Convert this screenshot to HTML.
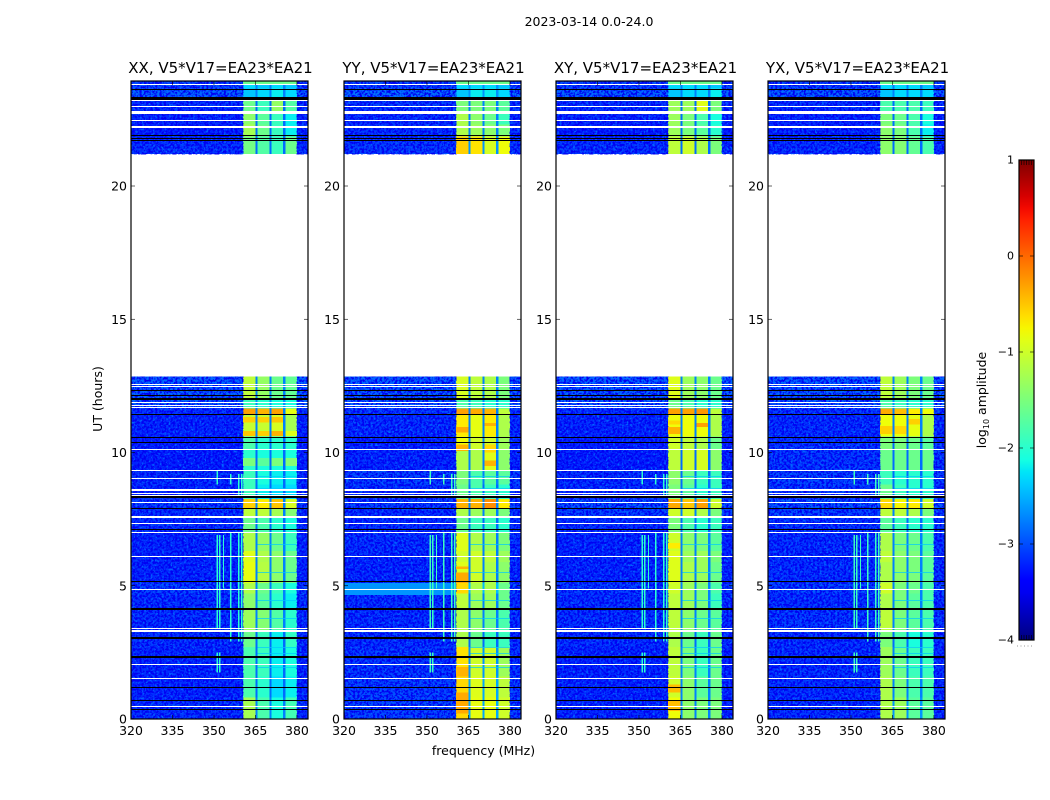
<!DOCTYPE html>
<html lang="en">
<head>
<meta charset="utf-8">
<title>2023-03-14 0.0-24.0</title>
<style>
html,body{margin:0;padding:0;background:#fff;}
svg{display:block;font-family:"DejaVu Sans","Liberation Sans",sans-serif;}
</style>
</head>
<body>
<svg id="figure" width="1050" height="800" viewBox="0 0 1050 800" xmlns="http://www.w3.org/2000/svg">
  <defs>
    <filter id="speckle-light" x="0" y="0" width="100%" height="100%" color-interpolation-filters="sRGB">
      <feTurbulence type="fractalNoise" baseFrequency="0.45" numOctaves="2" seed="4"/>
      <feColorMatrix type="matrix" values="0 0 0 0 0  0 0 0 0 0.4  0 0 0 0 1  4.5 0 0 0 -2.3"/>
    </filter>
    <filter id="speckle-dark" x="0" y="0" width="100%" height="100%" color-interpolation-filters="sRGB">
      <feTurbulence type="fractalNoise" baseFrequency="0.45" numOctaves="2" seed="11"/>
      <feColorMatrix type="matrix" values="0 0 0 0 0  0 0 0 0 0  0 0 0 0 0.95  0 5 0 0 -2.1"/>
    </filter>
    <linearGradient id="colorbar-gradient" x1="0" y1="1" x2="0" y2="0"></linearGradient>
  </defs>
  <rect width="1050" height="800" fill="#fff"/>
  <text x="589" y="26" text-anchor="middle" font-size="12.5" fill="#000">2023-03-14 0.0-24.0</text>
  <g id="panels"></g>
  <text transform="translate(102,399) rotate(-90)" text-anchor="middle" font-size="12.5" fill="#000">UT (hours)</text>
  <text x="483.5" y="755" text-anchor="middle" font-size="12.5" fill="#000">frequency (MHz)</text>
  <g id="colorbar"></g>
  <text transform="translate(986,400) rotate(-90)" text-anchor="middle" font-size="12.5" fill="#000">log<tspan font-size="8" dy="3">10</tspan><tspan dy="-3"> amplitude</tspan></text>
</svg>
<script>
// ---- chart data ----
const panelTitles = ["XX, V5*V17=EA23*EA21", "YY, V5*V17=EA23*EA21", "XY, V5*V17=EA23*EA21", "YX, V5*V17=EA23*EA21"];
const freqTicks = [320, 335, 350, 365, 380];
const timeTicks = [0, 5, 10, 15, 20];
const colorTicks = [1, 0, -1, -2, -3, -4];
const freqEdges = [320, 360.5, 365, 365.8, 370, 370.8, 375, 375.8, 380, 384];
const segmentStart = [0, 0.8, 1.6, 2.7, 3.3, 4.1, 4.7, 5.1, 5.9, 6.3, 7.0, 7.6, 7.9, 8.25, 8.8, 9.35, 10.1, 10.6, 11.4, 11.65, 12.05, 21.2, 21.85, 22.3, 22.8, 23.3, 23.65];
const segmentEnd = [0.8, 1.6, 2.7, 3.3, 4.1, 4.7, 5.1, 5.9, 6.3, 7.0, 7.6, 7.9, 8.25, 8.8, 9.35, 10.1, 10.6, 11.4, 11.65, 12.05, 12.85, 21.85, 22.3, 22.8, 23.3, 23.65, 23.94];
// per segment: [background, channel gap, sub-band A, B, C, D] log10 amplitude
const amplitudeXX = [
[-3.1,-2.75,-1.25,-1.8,-2.1,-1.85],[-3.15,-2.85,-1.8,-2.0,-2.3,-2.2],[-3.15,-2.85,-1.8,-1.9,-2.2,-2.1],[-3.1,-2.85,-1.6,-1.9,-2.2,-1.95],
[-3.1,-2.75,-1.3,-1.45,-1.75,-2.0],[-3.1,-2.75,-1.4,-1.7,-2.0,-2.2],[-3.0,-2.75,-1.2,-1.6,-1.9,-2.1],[-3.15,-2.75,-0.85,-1.15,-1.4,-1.6],
[-3.15,-2.75,-0.9,-1.2,-1.4,-1.6],[-3.15,-2.75,-1.2,-1.35,-1.6,-1.9],[-3.1,-2.85,-1.6,-1.8,-2.0,-2.1],[-3.1,-2.75,-1.1,-1.1,-1.25,-1.45],
[-3.0,-2.75,-0.55,-0.7,-0.5,-0.95],[-3.15,-2.85,-1.9,-2.2,-2.3,-2.3],[-3.1,-2.85,-1.9,-2.1,-2.2,-2.2],[-3.2,-2.85,-2.0,-2.1,-2.1,-2.1],
[-3.2,-2.85,-1.8,-2.0,-2.0,-2.0],[-3.15,-2.75,-1.05,-1.05,-0.95,-1.25],[-3.1,-2.75,-0.3,-0.4,-0.3,-0.85],[-2.85,-2.65,-1.9,-2.0,-2.1,-2.1],
[-2.85,-2.75,-1.1,-1.35,-1.6,-1.65],
[-3.1,-2.85,-1.55,-1.75,-1.9,-1.6],[-3.2,-2.85,-1.25,-1.6,-1.9,-2.2],[-3.15,-2.85,-1.4,-1.7,-1.9,-2.2],[-3.1,-2.85,-1.6,-1.9,-1.35,-1.75],
[-2.85,-2.75,-2.4,-2.3,-2.2,-2.3],[-3.0,-2.75,-2.3,-2.4,-2.3,-2.4]
];
const amplitudeYY = [
[-3.0,-2.55,-0.6,-0.85,-0.85,-1.0],[-3.0,-2.55,-0.6,-0.9,-0.95,-1.1],[-3.05,-2.65,-0.65,-1.0,-1.0,-1.3],[-3.1,-2.85,-1.2,-1.6,-1.9,-1.9],
[-3.1,-2.75,-1.2,-1.4,-1.6,-1.8],[-3.1,-2.75,-1.1,-1.3,-1.3,-1.6],[-3.0,-2.45,-0.6,-1.2,-1.2,-1.6],[-3.15,-2.75,-0.9,-1.0,-1.2,-1.4],
[-3.15,-2.75,-1.0,-1.0,-1.1,-1.3],[-3.1,-2.75,-0.9,-1.2,-1.3,-1.5],[-3.1,-2.85,-1.6,-1.9,-1.9,-2.0],[-3.1,-2.75,-1.2,-1.3,-1.3,-1.5],
[-3.0,-2.75,-0.4,-0.4,-0.2,-0.7],[-3.1,-2.85,-1.6,-1.8,-1.9,-2.0],[-3.0,-2.75,-1.5,-1.8,-1.7,-1.7],[-3.15,-2.75,-1.2,-1.2,-0.9,-1.4],
[-3.15,-2.75,-0.8,-1.0,-1.0,-1.3],[-3.1,-2.75,-0.7,-0.85,-0.7,-1.2],[-3.05,-2.75,-0.3,-0.35,-0.4,-1.1],[-2.85,-2.65,-1.8,-1.9,-2.0,-2.0],
[-2.85,-2.75,-0.95,-1.1,-1.2,-1.5],
[-3.05,-2.65,-0.55,-0.65,-0.95,-0.8],[-3.1,-2.75,-1.2,-1.3,-1.4,-1.5],[-3.1,-2.75,-1.2,-1.4,-1.6,-1.9],[-3.05,-2.75,-1.5,-1.5,-1.5,-1.7],
[-2.8,-2.65,-2.4,-2.2,-2.2,-2.3],[-3.0,-2.65,-2.3,-2.3,-2.3,-2.4]
];
const amplitudeXY = [
[-3.15,-2.75,-0.8,-1.4,-1.5,-1.5],[-3.15,-2.75,-1.0,-1.4,-1.7,-1.6],[-3.15,-2.75,-1.1,-1.5,-1.9,-1.6],[-3.1,-2.85,-1.2,-1.6,-1.9,-1.6],
[-3.1,-2.75,-1.1,-1.4,-1.6,-1.7],[-3.1,-2.75,-1.1,-1.3,-1.5,-1.9],[-3.05,-2.75,-1.0,-1.3,-1.5,-1.8],[-3.15,-2.75,-0.9,-1.2,-1.3,-1.6],
[-3.15,-2.75,-0.9,-1.3,-1.3,-1.5],[-3.15,-2.75,-1.0,-1.4,-1.5,-1.7],[-3.1,-2.85,-1.5,-1.8,-2.0,-1.9],[-3.0,-2.75,-1.0,-1.0,-1.2,-1.5],
[-2.9,-2.75,-0.35,-0.5,-0.3,-1.0],[-3.1,-2.85,-1.5,-1.7,-2.0,-1.9],[-3.1,-2.85,-1.4,-1.6,-1.9,-1.9],[-3.2,-2.85,-1.1,-1.0,-0.95,-1.4],
[-3.2,-2.85,-1.0,-1.1,-1.2,-1.6],[-3.15,-2.75,-0.8,-0.8,-0.8,-1.2],[-3.1,-2.75,-0.3,-0.3,-0.25,-1.1],[-2.85,-2.65,-1.6,-1.8,-2.0,-2.0],
[-2.85,-2.75,-0.9,-1.3,-1.4,-1.6],
[-3.1,-2.85,-1.1,-1.0,-1.2,-1.5],[-3.2,-2.85,-1.3,-1.5,-1.7,-2.0],[-3.15,-2.85,-1.3,-1.5,-1.8,-2.1],[-3.1,-2.85,-1.3,-1.3,-0.9,-1.5],
[-2.85,-2.75,-2.4,-2.3,-2.3,-2.2],[-3.0,-2.75,-2.3,-2.3,-2.3,-2.4]
];
const amplitudeYX = [
[-3.1,-2.65,-1.2,-1.3,-1.7,-1.7],[-3.1,-2.75,-1.2,-1.5,-1.8,-1.8],[-3.1,-2.75,-1.3,-1.6,-1.9,-1.9],[-3.1,-2.85,-1.5,-1.8,-2.1,-2.0],
[-3.05,-2.75,-1.1,-1.5,-1.7,-1.8],[-3.1,-2.75,-1.2,-1.5,-1.7,-1.8],[-3.0,-2.75,-1.0,-1.5,-1.6,-1.8],[-3.1,-2.75,-1.2,-1.4,-1.5,-1.7],
[-3.1,-2.75,-1.1,-1.4,-1.5,-1.7],[-3.1,-2.75,-1.2,-1.5,-1.6,-1.8],[-3.05,-2.85,-1.7,-1.9,-2.0,-2.0],[-3.0,-2.75,-1.1,-1.1,-1.2,-1.5],
[-2.9,-2.75,-0.6,-0.75,-0.7,-1.0],[-3.05,-2.85,-1.6,-1.9,-2.0,-2.0],[-3.0,-2.85,-1.9,-2.0,-2.0,-2.0],[-3.05,-2.85,-1.6,-1.6,-1.6,-1.6],
[-3.05,-2.85,-1.5,-1.5,-1.6,-1.7],[-3.1,-2.75,-0.8,-0.8,-0.85,-1.2],[-3.05,-2.75,-0.35,-0.45,-0.7,-0.8],[-2.85,-2.65,-1.8,-1.9,-2.0,-2.0],
[-2.85,-2.75,-1.1,-1.3,-1.5,-1.6],
[-3.1,-2.85,-1.4,-1.45,-1.65,-1.8],[-3.15,-2.85,-1.4,-1.5,-1.8,-2.2],[-3.15,-2.85,-1.5,-1.6,-1.8,-2.1],[-3.1,-2.85,-1.8,-1.8,-1.8,-1.9],
[-2.85,-2.75,-2.4,-2.3,-2.3,-2.3],[-3.0,-2.75,-2.3,-2.3,-2.3,-2.4]
];
const panelAmplitudes = [amplitudeXX, amplitudeYY, amplitudeXY, amplitudeYX];
// localized bright or dim patches: panel, start MHz, end MHz, start hour, end hour, level
const patchPanel = [0,0,0,0,0,0,0,0,0,0,0, 1,1,1,1,1,1,1,1,1,1, 2,2,2,2,2,2, 3,3,3];
const patchFreqStart = [360.5,365.8,370.8,375.8,360.5,365.8,370.8,360.5,365.8,370.8,375.8, 360.5,360.5,370.8,370.8,370.8,360.5,360.5,360.5,360.5,320, 360.5,360.5,370.8,360.5,360.5,360.5, 360.5,365.8,370.8];
const patchFreqEnd = [365,370,375,380,365,370,375,365,370,375,380, 365,365,375,375,375,365,365,365,365,360.5, 365,365,375,365,365,365, 365,370,375];
const patchStart = [10.62,10.62,10.62,10.62,11.12,11.12,11.12,9.5,9.5,9.5,9.5, 10.75,10.05,11.0,10.0,9.5,5.1,5.62,0.2,1.6,4.65, 10.7,11.05,10.95,0.3,1.0,6.4, 10.7,10.7,11.05];
const patchEnd = [10.8,10.8,10.8,10.8,11.33,11.33,11.33,9.8,9.8,9.8,9.8, 10.95,10.3,11.1,10.3,9.7,5.5,5.72,1.0,1.95,5.1, 10.95,11.2,11.1,0.7,1.3,6.6, 11.0,11.0,11.25];
const patchLevel = [-0.5,-0.55,-0.4,-0.9,-0.55,-0.55,-0.5,-1.5,-1.7,-1.5,-1.45, -0.35,-0.4,-0.4,-0.6,-0.4,-0.35,-0.4,-0.35,-0.4,-2.65, -0.4,-0.6,-0.3,-0.45,-0.45,-0.7, -0.55,-0.6,-0.55];
// faint dips across the sub-bands, common to all panels
const dipHour = [4.47, 3.8, 2.7, 2.48, 1.95, 5.5, 6.55, 9.1, 8.65];
// strong row at the very top of the sub-bands
const topStripeStart = 23.82;
const topStripeEnd = 23.94;
const topStripeLevel = -1.6;
// narrow interference lines
const rfiFreq = [351, 351, 351, 351.8, 351.8, 353.2, 355.8, 355.8, 358.7, 358.7, 359.8, 359.8];
const rfiStart = [1.75, 3.4, 8.8, 1.75, 3.4, 4.9, 2.9, 8.8, 2.9, 8.3, 2.9, 8.3];
const rfiEnd = [2.5, 6.9, 9.3, 2.5, 6.9, 6.9, 7.0, 9.2, 7.0, 9.2, 7.0, 9.2];
const rfiLevelByPanel = [-2.0, -1.9, -2.0, -1.9];
// unobserved (white) and zero-amplitude (black) time rows
const whiteRowHour = [23.79, 23.21, 22.96, 22.77, 22.44, 22.21, 12.54, 12.48, 11.86, 11.78, 11.67, 10.13, 9.34, 9.04, 8.59, 8.46, 8.38, 8.11, 7.58, 7.35, 6.98, 6.08, 4.84, 3.41, 3.32, 2.06, 1.50, 0.45];
const whiteRowSpan = [0.04, 0.09, 0.055, 0.11, 0.055, 0.075, 0.04, 0.04, 0.04, 0.04, 0.04, 0.04, 0.04, 0.04, 0.075, 0.04, 0.04, 0.04, 0.075, 0.04, 0.04, 0.04, 0.04, 0.04, 0.075, 0.04, 0.04, 0.04];
const blackRowHour = [23.62, 23.3, 21.88, 21.8, 21.69, 12.32, 12.12, 11.99, 11.44, 10.58, 10.36, 8.31, 7.88, 7.09, 5.14, 4.13, 3.04, 2.33, 1.16, 0.71, 0.34];
const blackRowSpan = [0.05, 0.1, 0.035, 0.035, 0.035, 0.04, 0.04, 0.09, 0.04, 0.04, 0.04, 0.09, 0.04, 0.045, 0.045, 0.07, 0.07, 0.07, 0.045, 0.04, 0.04];
const dataBlockStart = [0, 21.2];
const dataBlockEnd = [12.85, 23.94];
const colorMin = -4;
const colorMax = 1;
const freqMin = 320;
const freqMax = 384;
const timeMin = 0;
const timeMax = 23.94;

// ---- layout ----
const NS = "http://www.w3.org/2000/svg";
const panelLefts = [131, 344, 556, 768];
const plotWidth = 177;
const plotTop = 81;
const plotBottom = 719;
const barLeft = 1019, barRight = 1034, barTop = 160, barBottom = 640;

function xScale(freq, left) { return left + (freq - freqMin) / (freqMax - freqMin) * plotWidth; }
function yScale(hour) { return plotBottom - (hour - timeMin) / (timeMax - timeMin) * (plotBottom - plotTop); }
function barScale(level) { return barBottom - (level - colorMin) / (colorMax - colorMin) * (barBottom - barTop); }

function interp(stops, t) {
  for (let i = 1; i < stops.length; i++) {
    if (t <= stops[i][0]) {
      const a = stops[i - 1], b = stops[i];
      return a[1] + (b[1] - a[1]) * (t - a[0]) / (b[0] - a[0]);
    }
  }
  return stops[stops.length - 1][1];
}
const jetR = [[0, 0], [0.35, 0], [0.66, 1], [0.89, 1], [1, 0.5]];
const jetG = [[0, 0], [0.125, 0], [0.375, 1], [0.64, 1], [0.91, 0], [1, 0]];
const jetB = [[0, 0.5], [0.11, 1], [0.34, 1], [0.65, 0], [1, 0]];
function jet(level) {
  const t = Math.max(0, Math.min(1, (level - colorMin) / (colorMax - colorMin)));
  return "rgb(" + Math.round(255 * interp(jetR, t)) + "," + Math.round(255 * interp(jetG, t)) + "," + Math.round(255 * interp(jetB, t)) + ")";
}
function make(tag, attrs, parent) {
  const el = document.createElementNS(NS, tag);
  for (const k in attrs) el.setAttribute(k, attrs[k]);
  parent.appendChild(el);
  return el;
}
function tickLabel(level) { return level < 0 ? "\u2212" + Math.abs(level) : String(level); }
// pixel-snapped horizontal row across a plot
function rowRect(left, hour, span, fill, parent) {
  const top = Math.round(yScale(hour + span / 2));
  const height = Math.max(1, Math.round(yScale(hour - span / 2) - yScale(hour + span / 2)));
  return make("rect", { x: left, y: top, width: plotWidth, height: height, fill: fill, "shape-rendering": "crispEdges" }, parent);
}

// which column of a segment row each frequency band uses
const bandColumns = [0, 2, 1, 3, 1, 4, 1, 5, 0];

const panelsRoot = document.getElementById("panels");
panelLefts.forEach(function (left, p) {
  const pol = panelTitles[p].slice(0, 2).toLowerCase();
  const g = make("g", {}, panelsRoot);
  
  

  const title = make("text", { x: left + plotWidth / 2 + 1, y: 73, "text-anchor": "middle", "font-size": 15, fill: "#000" }, g);
  
  
  title.textContent = panelTitles[p];

  const heat = make("g", { "shape-rendering": "crispEdges" }, g);
  
  

  segmentStart.forEach(function (start, s) {
    const row = panelAmplitudes[p][s];
    for (let b = 0; b < freqEdges.length - 1; b++) {
      const x0 = xScale(freqEdges[b], left), x1 = xScale(freqEdges[b + 1], left);
      const y0 = yScale(segmentEnd[s]), y1 = yScale(start);
      const cell = make("rect", { x: x0, y: y0, width: x1 - x0, height: y1 - y0, fill: jet(row[bandColumns[b]]) }, heat);
      
      
    }
  });

  // speckle texture on the noise-only regions
  dataBlockStart.forEach(function (start, d) {
    [[freqEdges[0], freqEdges[1]], [freqEdges[8], freqEdges[9]]].forEach(function (range) {
      const attrs = {
        x: xScale(range[0], left), y: yScale(dataBlockEnd[d]),
        width: xScale(range[1], left) - xScale(range[0], left),
        height: yScale(start) - yScale(dataBlockEnd[d])
      };
      const light = make("rect", Object.assign({ filter: "url(#speckle-light)" }, attrs), g);
      
      
      const dark = make("rect", Object.assign({ filter: "url(#speckle-dark)" }, attrs), g);
      
      
    });
  });

  patchPanel.forEach(function (owner, i) {
    if (owner !== p) return;
    const x0 = xScale(patchFreqStart[i], left), x1 = xScale(patchFreqEnd[i], left);
    const y0 = yScale(patchEnd[i]), y1 = yScale(patchStart[i]);
    const patch = make("rect", { x: x0, y: y0, width: x1 - x0, height: y1 - y0, fill: jet(patchLevel[i]), "shape-rendering": "crispEdges" }, g);
    
    
  });

  dipHour.forEach(function (hour) {
    const dip = make("rect", {
      x: xScale(freqEdges[3], left), y: Math.round(yScale(hour)),
      width: xScale(freqEdges[8], left) - xScale(freqEdges[3], left), height: 1,
      fill: jet(-2.4), "fill-opacity": 0.7, "shape-rendering": "crispEdges"
    }, g);
    
    
  });

  const stripe = make("rect", {
    x: xScale(freqEdges[1], left), y: yScale(topStripeEnd),
    width: xScale(freqEdges[8], left) - xScale(freqEdges[1], left),
    height: yScale(topStripeStart) - yScale(topStripeEnd), fill: jet(topStripeLevel), "shape-rendering": "crispEdges"
  }, g);
  
  

  rfiFreq.forEach(function (freq, i) {
    const line = make("rect", {
      x: xScale(freq, left), y: yScale(rfiEnd[i]), width: 1.4,
      height: yScale(rfiStart[i]) - yScale(rfiEnd[i]), fill: jet(rfiLevelByPanel[p]), "shape-rendering": "crispEdges"
    }, g);
    
    
  });

  whiteRowHour.forEach(function (hour, i) {
    const r = rowRect(left, hour, whiteRowSpan[i], "#fff", g);
    
    
  });
  blackRowHour.forEach(function (hour, i) {
    const r = rowRect(left, hour, blackRowSpan[i], "#000", g);
    
    
  });

  freqTicks.forEach(function (freq) {
    const x = xScale(freq, left);
    const t1 = make("line", { x1: x, x2: x, y1: plotBottom, y2: plotBottom - 4, stroke: "#000", "stroke-width": 0.6 }, g);
    
    
    const t2 = make("line", { x1: x, x2: x, y1: plotTop, y2: plotTop + 4, stroke: "#000", "stroke-width": 0.6 }, g);
    
    
    const label = make("text", { x: x, y: 735, "text-anchor": "middle", "font-size": 12.5, fill: "#000" }, g);
    
    
    label.textContent = freq;
  });
  timeTicks.forEach(function (hour) {
    const y = yScale(hour);
    const t1 = make("line", { x1: left, x2: left + 4, y1: y, y2: y, stroke: "#000", "stroke-width": 0.6 }, g);
    
    
    const t2 = make("line", { x1: left + plotWidth, x2: left + plotWidth - 4, y1: y, y2: y, stroke: "#000", "stroke-width": 0.6 }, g);
    
    
    const label = make("text", { x: left - 4, y: y + 4.5, "text-anchor": "end", "font-size": 12.5, fill: "#000" }, g);
    
    
    label.textContent = hour;
  });

  const frame = make("rect", { x: left, y: plotTop, width: plotWidth, height: plotBottom - plotTop, fill: "none", stroke: "#000", "stroke-width": 1.2 }, g);
  
  
});

// ---- colorbar ----
const gradient = document.getElementById("colorbar-gradient");
for (let i = 0; i <= 40; i++) {
  make("stop", { offset: (i / 40), "stop-color": jet(colorMin + (colorMax - colorMin) * i / 40) }, gradient);
}
const barRoot = document.getElementById("colorbar");
const barBody = make("rect", { x: barLeft, y: barTop, width: barRight - barLeft, height: barBottom - barTop, fill: "url(#colorbar-gradient)" }, barRoot);


colorTicks.forEach(function (level) {
  const y = barScale(level);
  const label = make("text", { x: barLeft - 5, y: y + 3.5, "text-anchor": "end", "font-size": 11, fill: "#000" }, barRoot);
  
  
  label.textContent = tickLabel(level);
  const t1 = make("line", { x1: barLeft, x2: barLeft + 4, y1: y, y2: y, stroke: "#000", "stroke-width": 0.6 }, barRoot);
  
  
  const t2 = make("line", { x1: barRight, x2: barRight - 4, y1: y, y2: y, stroke: "#000", "stroke-width": 0.6 }, barRoot);
  
  
});
for (let i = 0; i < 5; i++) {
  const x = barLeft + 2.5 + i * 2.5;
  const top = make("line", { x1: x, x2: x, y1: barTop, y2: barTop + 5, stroke: "#000", "stroke-width": 0.6 }, barRoot);
  
  
  const bottom = make("line", { x1: x, x2: x, y1: barBottom, y2: barBottom - 5, stroke: "#000", "stroke-width": 0.6 }, barRoot);
  
  
}
const barFrame = make("rect", { x: barLeft, y: barTop, width: barRight - barLeft, height: barBottom - barTop, fill: "none", stroke: "#000", "stroke-width": 1.2 }, barRoot);


const dots = make("line", { x1: barLeft - 2, x2: barRight, y1: 646, y2: 646, stroke: "#999", "stroke-width": 1, "stroke-dasharray": "1 2.5" }, barRoot);


</script>
</body>
</html>
